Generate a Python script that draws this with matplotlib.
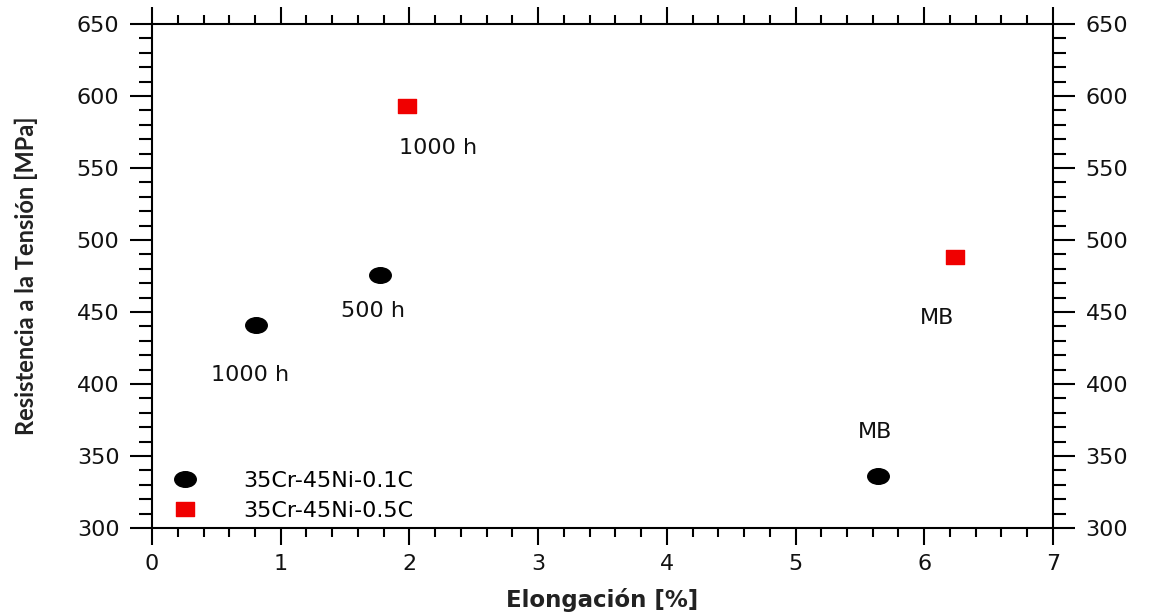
import matplotlib
matplotlib.use("Agg")
import matplotlib.pyplot as plt
from matplotlib.ticker import MultipleLocator
from matplotlib.path import Path
import numpy as np

# Data
elong_01C = [0.81, 1.77, 5.64]
uts_01C = [441, 476, 336]
labels_01C = ["1000 h", "500 h", "MB"]
label_pos_01C = [(0.76, 406), (1.72, 451), (5.62, 367)]

elong_05C = [1.98, 6.24]
uts_05C = [593, 488]
labels_05C = ["1000 h", "MB"]
label_pos_05C = [(2.22, 564), (6.1, 446)]

series_names = ["35Cr-45Ni-0.1C", "35Cr-45Ni-0.5C"]

# slightly wide markers (reference is horizontally stretched)
uc = Path.unit_circle()
ellipse = Path(uc.vertices * np.array([1.38, 1.0]), uc.codes)
wide_sq = Path([(-1.3, -1), (1.3, -1), (1.3, 1), (-1.3, 1), (-1.3, -1)],
               [Path.MOVETO, Path.LINETO, Path.LINETO, Path.LINETO, Path.CLOSEPOLY])

fig = plt.figure(figsize=(11.52, 6.14), dpi=100)
ax = fig.add_axes([0.132, 0.140, 0.782, 0.821])

ax.plot(elong_01C, uts_01C, marker=ellipse, color='black', markersize=15.5,
        linestyle='none', label=series_names[0])
ax.plot(elong_05C, uts_05C, marker=wide_sq, color='#f00000', markersize=12.5,
        linestyle='none', label=series_names[1])

for txt, (x, y) in zip(labels_01C, label_pos_01C):
    ax.text(x, y, txt, ha='center', va='center', fontsize=16, color='#111111')
for txt, (x, y) in zip(labels_05C, label_pos_05C):
    ax.text(x, y, txt, ha='center', va='center', fontsize=16, color='#111111')

ax.set_xlim(0, 7)
ax.set_ylim(300, 650)
ax.xaxis.set_major_locator(MultipleLocator(1))
ax.xaxis.set_minor_locator(MultipleLocator(0.2))
ax.yaxis.set_major_locator(MultipleLocator(50))
ax.yaxis.set_minor_locator(MultipleLocator(10))
ax.tick_params(which='both', direction='out', top=True, right=True,
               labelright=True, labelsize=16, width=1.5, labelcolor='#111111')
ax.tick_params(axis='x', which='major', length=12, pad=7)
ax.tick_params(axis='x', which='minor', length=6.5)
ax.tick_params(axis='y', which='major', length=15.5, pad=8)
ax.tick_params(axis='y', which='minor', length=9.5)
for s in ax.spines.values():
    s.set_linewidth(1.5)

ax.set_xlabel("Elongación [%]", fontsize=16.5, fontweight='bold', labelpad=10,
              color='#222222')
ax.set_ylabel("Resistencia a la Tensión [MPa]", fontsize=17, fontweight='bold',
              family=['Lato', 'DejaVu Sans'], labelpad=28, color='#222222')

ax.legend(loc='lower left', frameon=False, fontsize=16, handletextpad=1.9,
          borderaxespad=0.0, bbox_to_anchor=(0.008, -0.003), labelspacing=0.45,
          handlelength=1.5)

fig.savefig("out.png", dpi=100)
